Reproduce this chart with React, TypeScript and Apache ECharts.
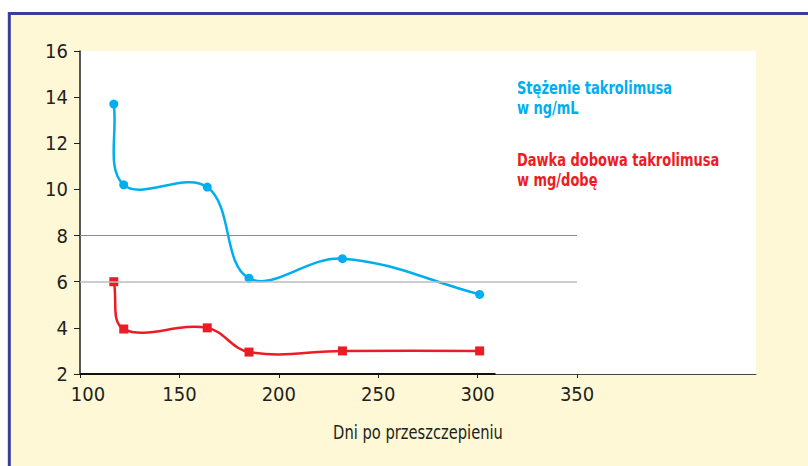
import React, { useEffect, useRef } from "react";
import * as echarts from "echarts";

const days = [117, 122, 164, 185, 232, 301];
const concentration = [13.7, 10.2, 10.1, 6.15, 7.0, 5.45];
const dose = [6, 3.95, 4, 2.95, 3, 3];
const xTicks = [100, 150, 200, 250, 300, 350];
const gridValues = [8, 6];
const legendConc = "Stężenie takrolimusa\nw ng/mL";
const legendDose = "Dawka dobowa takrolimusa\nw mg/dobę";
const xTitle = "Dni po przeszczepieniu";

const FONT = "'Liberation Sans Narrow', 'DejaVu Sans Condensed', 'Arial Narrow', sans-serif";
const BLUE = "#00aeef";
const RED = "#ed1c24";
const TENSION = 0.38;

function splinePath(pts: number[][]): string {
  const n = pts.length;
  const cpOut: number[][] = [];
  const cpIn: number[][] = [];
  for (let i = 0; i < n; i++) {
    const p = pts[i];
    const prev = pts[Math.max(0, i - 1)];
    const next = pts[Math.min(n - 1, i + 1)];
    const vx = next[0] - prev[0];
    const vy = next[1] - prev[1];
    const lp = Math.hypot(p[0] - prev[0], p[1] - prev[1]);
    const ln = Math.hypot(next[0] - p[0], next[1] - p[1]);
    const tot = lp + ln || 1;
    const rIn = i === 0 ? 0 : i === n - 1 ? 1 : lp / tot;
    const rOut = i === n - 1 ? 0 : i === 0 ? 1 : ln / tot;
    cpIn[i] = [p[0] - vx * TENSION * rIn, p[1] - vy * TENSION * rIn];
    cpOut[i] = [p[0] + vx * TENSION * rOut, p[1] + vy * TENSION * rOut];
  }
  let d = `M${pts[0][0]},${pts[0][1]}`;
  for (let i = 1; i < n; i++) {
    d += ` C${cpOut[i - 1][0]},${cpOut[i - 1][1]} ${cpIn[i][0]},${cpIn[i][1]} ${pts[i][0]},${pts[i][1]}`;
  }
  return d;
}

function curveSeries(values: number[], color: string) {
  return {
    type: "custom",
    silent: true,
    z: 2,
    data: [[days[0], values[0]]],
    renderItem: (_params: any, api: any) => {
      const pts = days.map((d, i) => api.coord([d, values[i]]));
      return {
        type: "path",
        shape: { pathData: splinePath(pts) },
        style: { stroke: color, lineWidth: 2.5, fill: "none" },
      };
    },
  };
}

export default function App() {
  const ref = useRef<HTMLDivElement>(null);
  useEffect(() => {
    document.body.style.margin = "0";
    const chart = echarts.init(ref.current!, null, { renderer: "svg" });
    const option: any = {
      animation: false,
      backgroundColor: "#ffffff",
      textStyle: { fontFamily: FONT },
      graphic: [
        {
          type: "rect",
          z: -10,
          shape: { x: 9.3, y: 13.5, width: 820, height: 470 },
          style: { fill: "#fef8d6", stroke: "#3a3d9a", lineWidth: 3 },
        },
        {
          type: "text",
          x: 517,
          y: 78,
          scaleX: 0.85,
          style: {
            text: legendConc,
            fill: BLUE,
            font: `bold 17px ${FONT}`,
            lineHeight: 20,
          },
        },
        {
          type: "text",
          x: 517,
          y: 150,
          scaleX: 0.85,
          style: {
            text: legendDose,
            fill: RED,
            font: `bold 17px ${FONT}`,
            lineHeight: 20,
          },
        },
        {
          type: "text",
          x: 418,
          y: 433,
          scaleX: 0.86,
          style: {
            text: xTitle,
            fill: "#231f20",
            font: `19px ${FONT}`,
            textAlign: "center",
            textVerticalAlign: "middle",
          },
        },
      ],
      grid: {
        left: 80,
        right: 52,
        top: 51,
        bottom: 92,
        show: true,
        backgroundColor: "#ffffff",
        borderWidth: 0,
      },
      xAxis: {
        type: "value",
        min: 100,
        max: 440,
        interval: 50,
        axisLine: { show: true, onZero: false, lineStyle: { color: "#444", width: 1 } },
        axisTick: {
          show: true,
          length: 4,
          customValues: xTicks,
          lineStyle: { color: "#231f20", width: 1 },
        },
        axisLabel: {
          customValues: xTicks,
          fontFamily: FONT,
          fontSize: 20,
          color: "#231f20",
          margin: 10,
          formatter: (v: number) => (v === xTicks[0] ? `{a|${v}}` : `${v}`),
          rich: { a: { fontFamily: FONT, fontSize: 20, color: "#231f20", padding: [0, 0, 0, 16] } },
        },
        splitLine: { show: false },
      },
      yAxis: {
        type: "value",
        min: 2,
        max: 16,
        interval: 2,
        axisLine: { show: true, lineStyle: { color: "#231f20", width: 1.5 } },
        axisTick: { show: true, length: 6, lineStyle: { color: "#231f20", width: 1 } },
        axisLabel: { fontFamily: FONT, fontSize: 20, color: "#231f20", margin: 12 },
        splitLine: { show: false },
      },
      series: [
        {
          type: "line",
          data: [],
          z: 1,
          silent: true,
          markLine: {
            silent: true,
            symbol: "none",
            label: { show: false },
            data: [
              [
                { coord: [xTicks[0], gridValues[0]], lineStyle: { color: "#8c8c8c", width: 1, type: "solid" } },
                { coord: [xTicks[xTicks.length - 1], gridValues[0]] },
              ],
              [
                { coord: [xTicks[0], gridValues[1]], lineStyle: { color: "#bdbdbd", width: 1.5, type: "solid" } },
                { coord: [xTicks[xTicks.length - 1], gridValues[1]] },
              ],
              [
                { coord: [xTicks[0], 2], lineStyle: { color: "#111", width: 2, type: "solid" } },
                { coord: [309, 2] },
              ],
            ],
          },
        },
        curveSeries(concentration, BLUE),
        curveSeries(dose, RED),
        {
          type: "scatter",
          name: "conc",
          data: days.map((d, i) => [d, concentration[i]]),
          symbol: "circle",
          symbolSize: 9,
          itemStyle: { color: BLUE, opacity: 1 },
          z: 3,
        },
        {
          type: "scatter",
          name: "dose",
          data: days.map((d, i) => [d, dose[i]]),
          symbol: "rect",
          symbolSize: 9,
          itemStyle: { color: RED, opacity: 1 },
          z: 3,
        },
      ],
    };
    chart.setOption(option);
    return () => chart.dispose();
  }, []);
  return (
    <div
      ref={ref}
      style={{ position: "absolute", left: 0, top: 0, width: 808, height: 466 }}
    />
  );
}
